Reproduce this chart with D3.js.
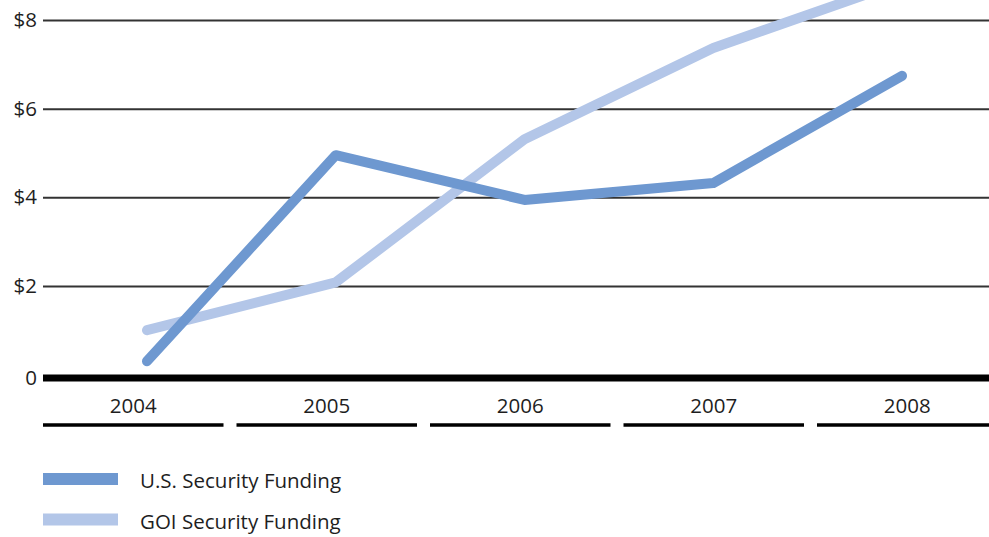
<!DOCTYPE html>
<html>
<head>
<meta charset="utf-8">
<script src="https://cdn.jsdelivr.net/npm/d3@7/dist/d3.min.js"></script>
<style>
  html, body { margin: 0; padding: 0; background: #fff; }
  svg { display: block; }
  text { font-family: "Open Sans", "Noto Sans", sans-serif; fill: #1e1e1e; }
</style>
</head>
<body>
<svg id="chart" width="989" height="537"></svg>
<script>
// Security funding, billions of dollars
const years = ["2004", "2005", "2006", "2007", "2008"];
const usFunding = [0.30, 4.95, 3.94, 4.32, 6.74];
const goiFunding = [1.00, 2.08, 5.31, 7.37, 8.86];
const yTicks = [0, 2, 4, 6, 8];
const tickLabels = ["0", "$2", "$4", "$6", "$8"];
const seriesNames = ["U.S. Security Funding", "GOI Security Funding"];
const seriesColors = ["#6e98d0", "#b3c6e8"];

const svg = d3.select("#chart");
const width = 989;
const left = 43;
const step = 193.5;
const gap = 13;
const fontSize = 20.5;

const y = d3.scaleLinear().domain([0, 8]).range([374.5, 20]);

// point positions for the lines
const xLine = d3.scalePoint().domain(years).range([147, 902]);
// category bands under the axis (the last one runs off the right edge)
const xBand = d3.scaleBand().domain(years)
  .range([left, left + 5 * step - gap])
  .paddingInner(gap / step).paddingOuter(0).align(0);

// horizontal gridlines
const gridAxis = d3.axisLeft(y).tickValues(yTicks.filter(d => d > 0))
  .tickSize(-(width - left)).tickFormat((d) => tickLabels[yTicks.indexOf(d)]).tickPadding(6);
const grid = svg.append("g").attr("transform", `translate(${left},0)`).call(gridAxis);
grid.select(".domain").remove();
grid.selectAll(".tick line").attr("stroke", "#333").attr("stroke-width", 2);
grid.selectAll(".tick text").attr("font-size", fontSize).attr("fill", "#1e1e1e")
  .style("font-family", "'Open Sans', 'Noto Sans', sans-serif");

// zero label
svg.append("text").attr("x", 37).attr("y", y(0) + 3.5).attr("dy", "0.32em")
  .attr("text-anchor", "end").attr("font-size", fontSize).text(tickLabels[0]);

// clip so lines stay within the drawing area
svg.append("clipPath").attr("id", "plot-clip")
  .append("rect").attr("x", 0).attr("y", 0).attr("width", width).attr("height", 374);

const line = d3.line().x((d, i) => xLine(years[i])).y(d => y(d));

const series = [usFunding, goiFunding];
// draw GOI first so the U.S. line sits on top
[1, 0].forEach(k => {
  svg.append("path")
    .datum(series[k])
    .attr("clip-path", "url(#plot-clip)")
    .attr("fill", "none")
    .attr("stroke", seriesColors[k])
    .attr("stroke-width", 10)
    .attr("stroke-linecap", "round")
    .attr("stroke-linejoin", "round")
    .attr("d", line);
});

// heavy baseline
svg.append("line").attr("x1", left).attr("x2", width)
  .attr("y1", y(0) + 3.5).attr("y2", y(0) + 3.5)
  .attr("stroke", "#000").attr("stroke-width", 7);

// category labels and underline segments
const cats = svg.append("g");
cats.selectAll("text").data(years).join("text")
  .attr("x", d => xBand(d) + xBand.bandwidth() / 2)
  .attr("y", 413)
  .attr("text-anchor", "middle")
  .attr("font-size", fontSize)
  .text(d => d);
cats.selectAll("line").data(years).join("line")
  .attr("x1", d => xBand(d)).attr("x2", d => Math.min(width, xBand(d) + xBand.bandwidth()))
  .attr("y1", 425).attr("y2", 425)
  .attr("stroke", "#000").attr("stroke-width", 3.5);

// legend
const legend = svg.append("g");
seriesNames.forEach((name, i) => {
  const cy = 479 + i * 40.5;
  legend.append("rect").attr("x", 43).attr("y", cy - 6).attr("width", 75).attr("height", 12)
    .attr("fill", seriesColors[i]);
  legend.append("text").attr("x", 140).attr("y", cy + 2).attr("dy", "0.35em")
    .attr("font-size", fontSize).text(name);
});
</script>
</body>
</html>
